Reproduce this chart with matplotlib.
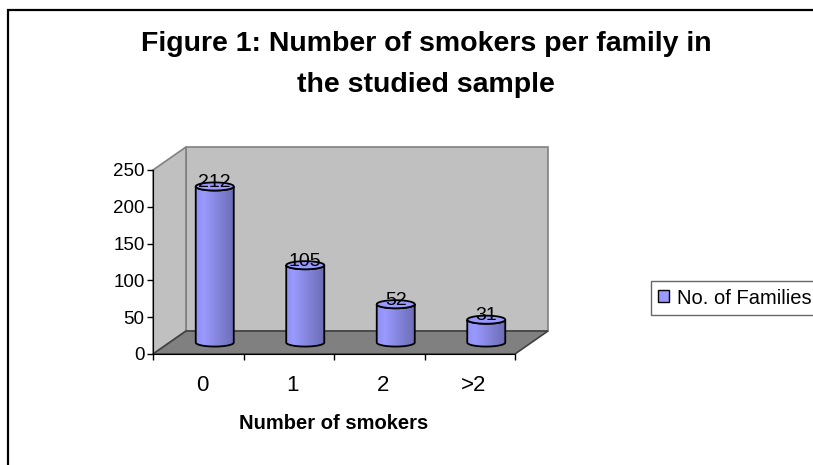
import numpy as np
import matplotlib
matplotlib.use("Agg")
import matplotlib.pyplot as plt
from matplotlib.patches import Polygon, Rectangle, PathPatch, Patch
from matplotlib.path import Path
from matplotlib.colors import to_rgb

plt.rcParams['font.family'] = ['Liberation Sans', 'DejaVu Sans']

# Chart data
categories = ["0", "1", "2", ">2"]
families = [212, 105, 52, 31]
series_name = "No. of Families"
title = "Figure 1: Number of smokers per family in\nthe studied sample"
x_label = "Number of smokers"
y_ticks = [0, 50, 100, 150, 200, 250]

W, H = 813, 465
fig = plt.figure(figsize=(W / 100, H / 100), dpi=100)

# front plane of the 3-D box, in pixels
px_left, px_right, px_bottom, px_top = 153, 515, 354, 170
ax = fig.add_axes([px_left / W, 1 - px_bottom / H,
                   (px_right - px_left) / W, (px_bottom - px_top) / H])
ncat = len(categories)
ymax = y_ticks[-1]
ax.set_xlim(0, ncat)
ax.set_ylim(0, ymax)
ax.patch.set_visible(False)

# depth offsets (data units)
unit_x = (px_right - px_left) / ncat
unit_y = (px_bottom - px_top) / ymax
DX = 33 / unit_x
DY = 23 / unit_y

wall_c = "#C0C0C0"
floor_c = "#808080"
edge_c = "#808080"

back = Polygon([(DX, DY), (ncat + DX, DY), (ncat + DX, ymax + DY), (DX, ymax + DY)],
               closed=True, facecolor=wall_c, edgecolor=edge_c, lw=1.2, clip_on=False, zorder=0)
side = Polygon([(0, 0), (DX, DY), (DX, ymax + DY), (0, ymax)],
               closed=True, facecolor=wall_c, edgecolor=edge_c, lw=1.2, clip_on=False, zorder=0)
floor = Polygon([(0, 0), (ncat, 0), (ncat + DX, DY), (DX, DY)],
                closed=True, facecolor=floor_c, edgecolor="#404040", lw=1.2, clip_on=False, zorder=0.5)
for p in (back, side, floor):
    ax.add_patch(p)

# cylinders
bar_c = np.array(to_rgb("#9999FF"))
half_w = 0.21
ell_h = 5.5
t = np.linspace(0, 1, 200)
shade = np.where(t < 0.2, 1.0 - 0.05 * (0.2 - t) / 0.2, 1.0 - 0.30 * (t - 0.2) / 0.8)
grad = np.clip(bar_c[None, :] * shade[:, None], 0, 1)[None, :, :]
top_c = bar_c

for i, v in enumerate(families):
    cx = i + 0.5 + DX / 2
    y0 = DY / 2
    y1 = v + DY / 2
    th_up = np.linspace(np.pi, 2 * np.pi, 40)
    th_dn = np.linspace(2 * np.pi, np.pi, 40)
    top_front = np.column_stack([cx + half_w * np.cos(th_up), y1 + ell_h * np.sin(th_up)])
    bot_front = np.column_stack([cx + half_w * np.cos(th_dn), y0 + ell_h * np.sin(th_dn)])
    body_pts = np.vstack([top_front, bot_front, top_front[:1]])
    codes = [Path.MOVETO] + [Path.LINETO] * (len(body_pts) - 2) + [Path.CLOSEPOLY]
    body = PathPatch(Path(body_pts, codes), facecolor="none", edgecolor="black",
                     lw=1.3, zorder=3 + i)
    ax.add_patch(body)
    im = ax.imshow(grad, extent=(cx - half_w, cx + half_w, y0 - ell_h, y1 + ell_h),
                   aspect="auto", zorder=2.9 + i, interpolation="bilinear")
    im.set_clip_path(body)
    th = np.linspace(0, 2 * np.pi, 80)
    top = Polygon(np.column_stack([cx + half_w * np.cos(th), y1 + ell_h * np.sin(th)]),
                  closed=True, facecolor=top_c, edgecolor="black", lw=1.3, zorder=3.1 + i)
    ax.add_patch(top)
    ax.text(cx, y1 - 1, str(v), ha="center", va="baseline", fontsize=14,
            color="black", zorder=20)

ax.set_xlim(0, ncat)
ax.set_ylim(0, ymax)

# axes and ticks
for s in ("top", "right"):
    ax.spines[s].set_visible(False)
ax.spines["left"].set_color("black")
ax.spines["bottom"].set_color("black")
ax.spines["left"].set_zorder(1)
ax.spines["bottom"].set_zorder(1)
ax.set_yticks(y_ticks)
ax.tick_params(axis="y", direction="out", length=4, width=1, pad=2, labelsize=13.5)
ax.set_xticks(np.arange(ncat + 1))
ax.set_xticklabels([])
ax.tick_params(axis="x", which="major", direction="out", length=4, width=1)
ax.set_xticks(np.arange(ncat) + 0.54, minor=True)
ax.set_xticklabels(categories, minor=True)
ax.tick_params(axis="x", which="minor", length=0, pad=15, labelsize=16)
ax.set_xlabel(x_label, fontsize=14.5, fontweight="bold", labelpad=13)

# title
fig.text(0.524, 1 - 31 / H, title, ha="center", va="top", fontsize=20.5,
         fontweight="bold", linespacing=1.75)

# legend
handle = Patch(facecolor="#9999FF", edgecolor="black", lw=1.0)
leg = fig.legend([handle], [series_name], loc="center left",
                 bbox_to_anchor=(651 / W, 1 - 298 / H), fontsize=14.5,
                 frameon=True, fancybox=False, edgecolor="#404040",
                 handlelength=0.55, handleheight=0.55, handletextpad=0.4,
                 borderpad=0.35, borderaxespad=0)
leg.get_frame().set_linewidth(1.0)

# chart border
fig.patches.append(Rectangle((8 / W, -0.1), 1.2, 1.1 - 10 / H, transform=fig.transFigure,
                             facecolor="none", edgecolor="black", lw=1.6))

fig.savefig("out.png", dpi=100)
